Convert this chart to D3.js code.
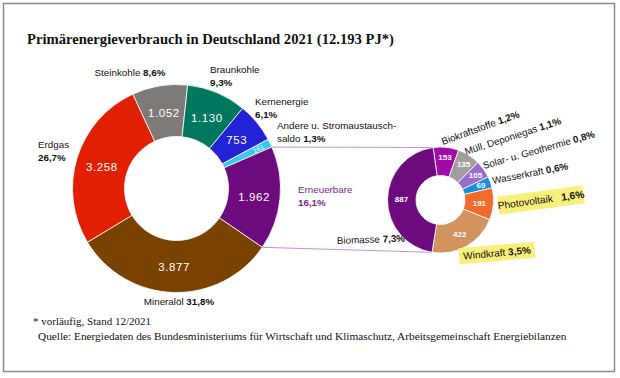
<!DOCTYPE html>
<html><head><meta charset="utf-8">
<script src="https://cdn.jsdelivr.net/npm/d3@7"></script>
<style>
html,body{margin:0;padding:0;background:#fff;}
svg{display:block;}
</style></head>
<body>
<svg id="chart" width="620" height="378"></svg>
<script>
// ---------- data ----------
const title = "Primärenergieverbrauch in Deutschland 2021 (12.193 PJ*)";
const footnote1 = "* vorläufig, Stand 12/2021";
const footnote2 = "Quelle: Energiedaten des Bundesministeriums für Wirtschaft und Klimaschutz, Arbeitsgemeinschaft Energiebilanzen";

const leftCats   = ["Steinkohle", "Braunkohle", "Kernenergie", "Andere u. Stromaustausch-|saldo", "Erneuerbare", "Mineralöl", "Erdgas"];
const leftValues = [1052, 1130, 753, 161, 1962, 3877, 3258];
const leftValueLabels = ["1.052", "1.130", "753", "161", "1.962", "3.877", "3.258"];
const leftShares = ["8,6%", "9,3%", "6,1%", "1,3%", "16,1%", "31,8%", "26,7%"];

const rightCats   = ["Biokraftstoffe", "Müll, Deponiegas", "Solar- u. Geothermie", "Wasserkraft", "Photovoltaik", "Windkraft", "Biomasse"];
const rightValues = [153, 135, 105, 69, 191, 422, 887];
const rightShares = ["1,2%", "1,1%", "0,8%", "0,6%", "1,6%", "3,5%", "7,3%"];

// ---------- styles ----------
const leftColors  = ["#7f7a76", "#00785f", "#2222d6", "#38c8f0", "#6c0a7e", "#7a4200", "#e11f02"];
const rightColors = ["#a20aa8", "#a39d9c", "#9c6bd2", "#1b8fd6", "#f26a2c", "#d2935f", "#6c0a7e"];
const SANS = "'Liberation Sans', Arial, sans-serif";
const SERIF = "'Liberation Serif', 'DejaVu Serif', serif";
const deg = d => d * Math.PI / 180;

const svg = d3.select("#chart");
svg.append("rect").attr("x", 3.5).attr("y", 3.5).attr("width", 611).attr("height", 368)
  .attr("fill", "#fff").attr("stroke", "#8c8c8c").attr("stroke-width", 1.5);

function fitText(sel, target) {
  const w = sel.node().getComputedTextLength();
  const fs = parseFloat(sel.attr("font-size"));
  sel.attr("font-size", (fs * target / w).toFixed(2));
}

// title
const t = svg.append("text").attr("x", 27).attr("y", 44).attr("font-family", SERIF)
  .attr("font-weight", "bold").attr("font-size", 14).attr("fill", "#111").text(title);
fitText(t, 367);

// ---------- left donut ----------
const L = {cx: 176.5, cy: 188.5, r0: 52, r1: 104, start: -24.9};
const pieL = d3.pie().sort(null).startAngle(deg(L.start)).endAngle(deg(L.start + 360))(leftValues);
const arcL = d3.arc().innerRadius(L.r0).outerRadius(L.r1);
const gL = svg.append("g").attr("transform", `translate(${L.cx},${L.cy})`);
gL.selectAll("path").data(pieL).join("path")
  .attr("d", arcL).attr("fill", (d, i) => leftColors[i])
  .attr("stroke", "#fff").attr("stroke-width", 0.8);

// connector lines from Erneuerbare to the right donut
const R = {cx: 440.5, cy: 200, r0: 24.5, r1: 53, start: -8};
const pieR = d3.pie().sort(null).startAngle(deg(R.start)).endAngle(deg(R.start + 360))(rightValues);
const ern = pieL[4];
const pt = (c, r, a) => [c.cx + r * Math.sin(a), c.cy - r * Math.cos(a)];
const bio = pieR[6];
const lines = [
  [pt(L, L.r1, ern.startAngle), pt(R, R.r1, pieR[0].startAngle)],
  [pt(L, L.r1, ern.endAngle), pt(R, R.r1, bio.startAngle)]
];
svg.selectAll("line.conn").data(lines).join("line").attr("class", "conn")
  .attr("x1", d => d[0][0]).attr("y1", d => d[0][1])
  .attr("x2", d => d[1][0]).attr("y2", d => d[1][1])
  .attr("stroke", "#c98fcb").attr("stroke-width", 1);

// value labels left
const arcLabL = d3.arc().innerRadius(78).outerRadius(78);
gL.selectAll("text.v").data(pieL).join("text").attr("class", "v")
  .each(function(d, i) {
    const s = d3.select(this);
    if (i === 3) {
      const a = (d.startAngle + d.endAngle) / 2;
      const p = [91 * Math.sin(a), -91 * Math.cos(a)];
      s.attr("transform", `translate(${p[0]},${p[1]}) rotate(${a * 180 / Math.PI - 90})`)
        .attr("font-size", 7);
    } else {
      const c = arcLabL.centroid(d);
      s.attr("transform", `translate(${c[0]},${c[1] + 1})`).attr("font-size", 11.5)
        .attr("letter-spacing", 0.6);
    }
  })
  .attr("text-anchor", "middle").attr("dy", "0.35em")
  .attr("font-family", SANS).attr("fill", "#fff")
  .text((d, i) => leftValueLabels[i]);

// outer labels left (layout)
const leftLayout = [
  {x: 130, y: 76, anchor: "middle", inline: true},
  {x: 210, y: 73},
  {x: 255, y: 105},
  {x: 277, y: 129},
  {x: 298, y: 193, color: "#7e1f8e"},
  {x: 179, y: 305, anchor: "middle", inline: true},
  {x: 38, y: 148}
];
leftCats.forEach((name, i) => {
  const lay = leftLayout[i];
  const tx = svg.append("text").attr("x", lay.x).attr("y", lay.y)
    .attr("text-anchor", lay.anchor || "start").attr("font-family", SANS)
    .attr("font-size", 9.8).attr("fill", lay.color || "#111");
  const parts = name.split("|");
  if (lay.inline) {
    tx.append("tspan").text(parts[0] + " ");
    tx.append("tspan").attr("font-weight", "bold").text(leftShares[i]);
  } else if (parts.length > 1) {
    tx.append("tspan").text(parts[0]);
    tx.append("tspan").attr("x", lay.x).attr("dy", 13).text(parts[1] + " ");
    tx.append("tspan").attr("font-weight", "bold").text(leftShares[i]);
  } else {
    tx.append("tspan").text(name);
    tx.append("tspan").attr("x", lay.x).attr("dy", 13).attr("font-weight", "bold").text(leftShares[i]);
  }
});

// ---------- right donut ----------
const arcR = d3.arc().innerRadius(R.r0).outerRadius(R.r1);
const gR = svg.append("g").attr("transform", `translate(${R.cx},${R.cy})`);
gR.selectAll("path").data(pieR).join("path")
  .attr("d", arcR).attr("fill", (d, i) => rightColors[i])
  .attr("stroke", "#fff").attr("stroke-width", 0.8);
gR.selectAll("text.v").data(pieR).join("text").attr("class", "v")
  .attr("transform", (d, i) => {
    const r = (i === 5 || i === 6 || i === 4) ? 39 : 43;
    const a = (d.startAngle + d.endAngle) / 2;
    return `translate(${r * Math.sin(a)},${-r * Math.cos(a)})`;
  })
  .attr("text-anchor", "middle").attr("dy", "0.35em")
  .attr("font-family", SANS).attr("font-size", 8).attr("font-weight", "bold")
  .attr("fill", "#fff").text(d => d.value);

// outer labels right (layout)
const rightLayout = [
  {x: 443, y: 145, rot: -20},
  {x: 466, y: 155, rot: -18},
  {x: 484, y: 169, rot: -16},
  {x: 493, y: 184, rot: -11},
  {cx: 541, cy: 200, rot: -7.7, box: [86, 18], gap: "   ", fs: 10.2},
  {cx: 497, cy: 253, rot: -5, box: [76, 16], fs: 10}
];
rightLayout.push({x: 337, y: 244, rot: -2});
rightCats.forEach((name, i) => {
  const lay = rightLayout[i];
  if (lay.box) {
    const g = svg.append("g").attr("transform", `translate(${lay.cx},${lay.cy}) rotate(${lay.rot})`);
    g.append("rect").attr("x", -lay.box[0] / 2).attr("y", -lay.box[1] / 2)
      .attr("width", lay.box[0]).attr("height", lay.box[1]).attr("fill", "#f9f07c");
    const tx = g.append("text").attr("text-anchor", "middle").attr("y", 3.5)
      .attr("font-family", SANS).attr("font-size", lay.fs).attr("fill", "#111")
      .attr("xml:space", "preserve").style("white-space", "pre");
    tx.append("tspan").text(name + (lay.gap || " "));
    tx.append("tspan").attr("font-weight", "bold").text(rightShares[i]);
  } else {
    const tx = svg.append("text").attr("transform", `translate(${lay.x},${lay.y}) rotate(${lay.rot})`)
      .attr("font-family", SANS).attr("font-size", 9.8).attr("fill", "#111");
    tx.append("tspan").text(name + " ");
    tx.append("tspan").attr("font-weight", "bold").text(rightShares[i]);
  }
});

// footnotes
const f1 = svg.append("text").attr("x", 33).attr("y", 325).attr("font-family", SERIF)
  .attr("font-size", 11).attr("fill", "#111").text(footnote1);
fitText(f1, 118);
const f2 = svg.append("text").attr("x", 38).attr("y", 340).attr("font-family", SERIF)
  .attr("font-size", 11).attr("fill", "#111").text(footnote2);
fitText(f2, 529);
</script>
</body></html>
